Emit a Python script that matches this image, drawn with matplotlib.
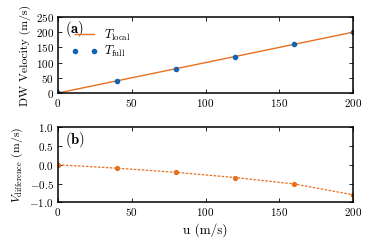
import matplotlib
matplotlib.use("Agg")
import matplotlib.pyplot as plt
import numpy as np

plt.rcParams['font.family'] = 'serif'
plt.rcParams['font.serif'] = ['cmr10', 'DejaVu Serif']
plt.rcParams['mathtext.fontset'] = 'cm'
plt.rcParams['axes.formatter.use_mathtext'] = True
plt.rcParams['axes.unicode_minus'] = True

u_line = [0, 200]
v_local = [0, 200]
u_pts = [0, 40, 80, 120, 160, 200]
v_full = [0, 40, 80, 120, 160, 200]
v_diff = [0.0, -0.09, -0.2, -0.34, -0.51, -0.8]

xticks = [0, 50, 100, 150, 200]
yticks_a = [0, 50, 100, 150, 200, 250]
yticks_b = [-1.0, -0.5, 0.0, 0.5, 1.0]

orange = '#e8711f'
blue = '#1464b4'

fig = plt.figure(figsize=(3.74, 2.49), dpi=100)
ax1 = fig.add_axes([58/374, 1-93/249, (353-58)/374, (93-17)/249])
ax2 = fig.add_axes([58/374, 1-202.3/249, (353-58)/374, (202.3-127.3)/249])

ax1.plot(u_line, v_local, color=orange, lw=1.0, label=r'$T_{\rm local}$')
ax1.plot(u_pts, v_full, 'o', color=blue, ms=3, label=r'$T_{\rm full}$')
ax1.set_xlim(0, 200)
ax1.set_ylim(0, 250)
ax1.set_xticks(xticks)
ax1.set_yticks(yticks_a)
ax1.set_ylabel('DW Velocity (m/s)', fontsize=8.5, labelpad=3)
ax1.text(0.025, 0.97, r'$\mathbf{(a)}$', transform=ax1.transAxes, ha='left', va='top', fontsize=10.5)
leg = ax1.legend(loc='upper left', bbox_to_anchor=(0.045, 0.86), frameon=False, fontsize=9,
                 numpoints=2, handlelength=2.1, handletextpad=0.5, labelspacing=0.1,
                 borderaxespad=0, borderpad=0)

ax2.plot(u_pts, v_diff, '--o', color=orange, lw=0.9, ms=2.8, dashes=(2, 1.2))
ax2.set_xlim(0, 200)
ax2.set_ylim(-1, 1)
ax2.set_xticks(xticks)
ax2.set_yticks(yticks_b)
ax2.set_ylabel(r'$V_{\rm difference}$ (m/s)', fontsize=8.5, labelpad=3)
ax2.set_xlabel(r'u (m/s)', fontsize=9.5, labelpad=3)
ax2.text(0.025, 0.97, r'$\mathbf{(b)}$', transform=ax2.transAxes, ha='left', va='top', fontsize=10.5)

for ax in (ax1, ax2):
    ax.tick_params(direction='in', top=True, right=True, labelsize=8, length=3, width=0.6, pad=3)
    for s in ax.spines.values():
        s.set_linewidth(1.1)

fig.savefig('out.png', dpi=100)
